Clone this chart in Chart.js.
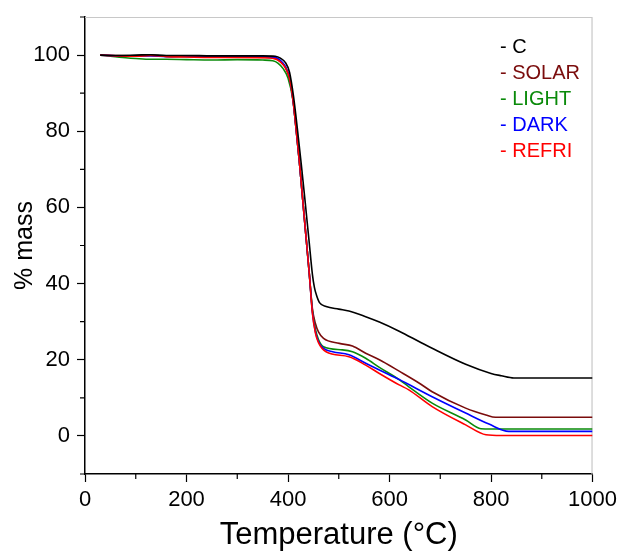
<!DOCTYPE html>
<html>
<head>
<meta charset="utf-8">
<script src="https://cdn.jsdelivr.net/npm/chart.js@4/dist/chart.umd.min.js"></script>
<style>
  html, body { margin: 0; padding: 0; background: #fff; }
  #wrap { width: 622px; height: 552px; }
</style>
</head>
<body>
<div id="wrap"><canvas id="c" width="622" height="552"></canvas></div>
<script>
const seriesNames = ["C", "SOLAR", "LIGHT", "DARK", "REFRI"];
const seriesColors = ["#000000", "#7a0c0c", "#0a8a0a", "#0000ff", "#ff0000"];

const tempC = [30, 60, 100, 130, 160, 200, 250, 300, 350, 375, 385, 395, 403, 411, 419, 426, 433, 442, 448, 452, 456, 462, 475, 500, 520, 553, 580, 619, 658, 684, 750, 800, 820, 845, 900, 1000];
const massC = [100, 99.9, 100, 100.1, 99.9, 99.9, 99.8, 99.8, 99.8, 99.7, 99.2, 98, 95.5, 89, 80, 71.5, 62.5, 50.5, 42.5, 39, 37, 35, 34, 33.3, 32.8, 31.3, 29.9, 27.5, 24.8, 23.0, 18.8, 16.4, 15.8, 15.2, 15.2, 15.2];

const tempSolar = [30, 60, 100, 130, 160, 200, 250, 300, 350, 375, 385, 395, 403, 410, 416, 422, 428, 435, 442, 448, 454, 460, 470, 501, 527, 553, 580, 619, 658, 684, 750, 790, 809, 900, 1000];
const massSolar = [100, 99.9, 99.8, 100, 99.7, 99.6, 99.5, 99.5, 99.4, 99.1, 98.3, 96.8, 93.8, 88, 80.5, 72.5, 63.5, 53, 42.5, 33.5, 29.5, 27.3, 25.6, 24.3, 23.6, 21.7, 20, 17.0, 13.9, 11.6, 7.3, 5.5, 4.9, 4.9, 4.9];

const tempLight = [30, 50, 80, 100, 130, 160, 200, 250, 300, 350, 370, 380, 390, 400, 410, 416, 422, 428, 435, 442, 448, 454, 460, 470, 507, 527, 553, 580, 619, 638, 684, 750, 780, 800, 1000];
const massLight = [100, 99.7, 99.3, 99.1, 98.9, 98.9, 98.8, 98.7, 98.8, 98.7, 98.5, 97.9, 96.5, 94, 88, 80.5, 72.5, 63.5, 53, 42.5, 33, 28, 25.3, 23.4, 22.6, 22.1, 20.4, 18, 14.8, 12.9, 8.6, 4.2, 1.9, 1.8, 1.8];

const tempDark = [30, 60, 100, 130, 160, 200, 250, 300, 350, 375, 385, 395, 403, 410, 416, 422, 428, 435, 442, 448, 454, 460, 470, 488, 520, 553, 580, 619, 684, 750, 796, 835, 900, 1000];
const massDark = [100, 99.8, 99.7, 99.8, 99.6, 99.7, 99.6, 99.6, 99.6, 99.4, 98.6, 97, 94, 88, 80.5, 72.5, 63.5, 53, 42.5, 32.5, 27.3, 24.8, 23, 22.1, 21.3, 19.1, 17.3, 14.8, 10.3, 6.0, 3.1, 1.2, 1.2, 1.2];

const tempRefri = [30, 60, 100, 130, 160, 200, 250, 300, 350, 375, 385, 395, 403, 410, 416, 422, 428, 435, 442, 448, 454, 460, 475, 520, 553, 580, 619, 638, 684, 750, 790, 820, 1000];
const massRefri = [100, 99.8, 99.7, 99.9, 99.6, 99.5, 99.4, 99.4, 99.3, 99.0, 98.2, 96.6, 93.8, 88, 80.5, 72.5, 63.5, 53, 42.5, 32.3, 27, 24.5, 22.1, 20.8, 18.6, 16.4, 13.4, 12.1, 7.7, 2.9, 0.3, 0.1, 0.1];

const xTickLabels = [0, 200, 400, 600, 800, 1000];
const yTickLabels = [0, 20, 40, 60, 80, 100];

const temps = [tempC, tempSolar, tempLight, tempDark, tempRefri];
const masses = [massC, massSolar, massLight, massDark, massRefri];

const datasets = seriesNames.map((name, i) => ({
  label: name,
  data: temps[i].map((t, k) => ({ x: t, y: masses[i][k] })),
  borderColor: seriesColors[i],
  backgroundColor: seriesColors[i],
  borderWidth: 1.6,
  pointRadius: 0,
  showLine: true,
  fill: false,
  cubicInterpolationMode: 'monotone',
  order: i === 0 ? 0 : 6 - i
}));

const FONT = "'Liberation Sans', Arial, sans-serif";

const decor = {
  id: 'decor',
  beforeDatasetsDraw(chart) {
    const { ctx, chartArea: a } = chart;
    ctx.save();
    ctx.strokeStyle = '#c8c8c8';
    ctx.lineWidth = 1.2;
    ctx.beginPath();
    ctx.moveTo(a.left, a.top + 0.5);
    ctx.lineTo(a.right - 0.5, a.top + 0.5);
    ctx.lineTo(a.right - 0.5, a.bottom);
    ctx.stroke();
    ctx.restore();
  },
  afterDraw(chart) {
    const { ctx, chartArea: a, scales } = chart;
    ctx.save();
    ctx.strokeStyle = '#000';
    ctx.lineWidth = 1.2;
    ctx.beginPath();
    for (let v = 100; v < 1000; v += 200) {
      const px = scales.x.getPixelForValue(v);
      ctx.moveTo(px, a.bottom); ctx.lineTo(px, a.bottom + 5);
    }
    for (let v = -10; v <= 110; v += 20) {
      const py = scales.y.getPixelForValue(v);
      ctx.moveTo(a.left, py); ctx.lineTo(a.left - 5, py);
    }
    ctx.stroke();
    ctx.font = "20px " + FONT;
    ctx.textBaseline = 'middle';
    ctx.textAlign = 'left';
    seriesNames.forEach((n, i) => {
      ctx.fillStyle = seriesColors[i];
      ctx.fillText('- ' + n, 500, 47 + i * 26);
    });
    ctx.restore();
  }
};

new Chart(document.getElementById('c'), {
  type: 'scatter',
  data: { datasets },
  options: {
    responsive: false,
    animation: false,
    layout: { padding: { left: 0, right: 28, top: 17, bottom: 0 } },
    plugins: { legend: { display: false }, tooltip: { enabled: false } },
    scales: {
      x: {
        type: 'linear',
        min: 0, max: 1000,
        afterFit(s) { s.height = 78; },
        border: { display: true, color: '#000', width: 1.5 },
        grid: {
          drawOnChartArea: false, drawTicks: true, tickLength: 8,
          tickColor: (c) => (c.tick && c.tick.value % 200 === 0) ? '#000' : 'rgba(0,0,0,0)',
          tickWidth: 1.2
        },
        ticks: {
          stepSize: 100,
          color: '#000',
          padding: 5,
          maxRotation: 0,
          autoSkip: false,
          font: { family: FONT, size: 22 },
          callback: (v) => xTickLabels.includes(v) ? String(v) : ''
        },
        title: {
          display: true, text: 'Temperature (°C)', color: '#000',
          font: { family: FONT, size: 31 },
          padding: { top: 0, bottom: -2 }
        }
      },
      y: {
        type: 'linear',
        min: -10, max: 110,
        afterFit(s) { s.width = 85; s.paddingTop = 0; s.paddingBottom = 0; },
        border: { display: true, color: '#000', width: 1.5 },
        grid: {
          drawOnChartArea: false, drawTicks: true, tickLength: 8,
          tickColor: (c) => (c.tick && yTickLabels.includes(c.tick.value)) ? '#000' : 'rgba(0,0,0,0)',
          tickWidth: 1.2
        },
        ticks: {
          stepSize: 10,
          color: '#000',
          padding: 7,
          autoSkip: false,
          font: { family: FONT, size: 22 },
          callback: (v) => yTickLabels.includes(v) ? String(v) : ''
        },
        title: {
          display: true, text: '% mass', color: '#000',
          font: { family: FONT, size: 25 },
          padding: { top: 10, bottom: 0 }
        }
      }
    }
  },
  plugins: [decor]
});
</script>
</body>
</html>
